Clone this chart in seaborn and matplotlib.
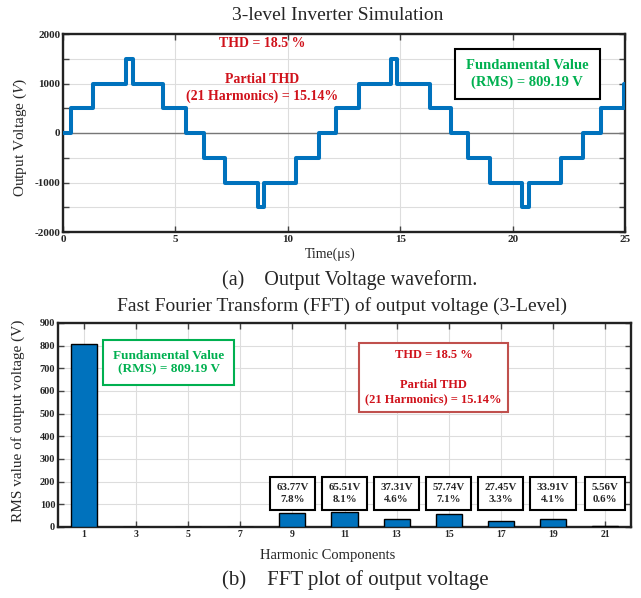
import matplotlib
matplotlib.use("Agg")
import matplotlib.pyplot as plt
import seaborn as sns
import pandas as pd

# --- waveform (a): staircase steps ---
t_steps = [0, 0.36, 1.33, 2.80, 3.10, 4.47, 5.47, 6.25, 7.22, 8.67, 8.96, 10.37, 11.41,
           12.16, 13.16, 14.57, 14.84, 16.31, 17.26, 18.0, 19.0, 20.42, 20.73, 22.16,
           23.13, 23.93, 24.95, 25.0]
v_steps = [0, 500, 1000, 1500, 1000, 500, 0, -500, -1000, -1500, -1000, -500, 0,
           500, 1000, 1500, 1000, 500, 0, -500, -1000, -1500, -1000, -500,
           0, 500, 1000, 1000]

# --- FFT (b) ---
harmonics = [1, 3, 5, 7, 9, 11, 13, 15, 17, 19, 21]
rms_values = [809.19, 0, 0, 0, 63.77, 65.51, 37.31, 57.74, 27.45, 33.91, 5.56]
label_harm = [9, 11, 13, 15, 17, 19, 21]
label_volt = ['63.77V', '65.51V', '37.31V', '57.74V', '27.45V', '33.91V', '5.56V']
label_pct = ['7.8%', '8.1%', '4.6%', '7.1%', '3.3%', '4.1%', '0.6%']

BLUE = '#0072BD'
RED = '#D0121B'
GREEN = '#00B050'
RED_EDGE = '#C0504D'

sns.set_style("ticks")
plt.rcParams['font.family'] = ['Liberation Serif', 'DejaVu Serif']
plt.rcParams['mathtext.fontset'] = 'stix'

fig = plt.figure(figsize=(6.41, 5.98), dpi=100)
W, H = 641, 598

def axes_px(l, t, r, b):
    return fig.add_axes([l / W, 1 - b / H, (r - l) / W, (b - t) / H])

def style_axes(ax, xsize, ysize):
    for s in ax.spines.values():
        s.set_linewidth(1.7)
        s.set_color('#222222')
    ax.tick_params(direction='in', top=True, right=True, length=4, width=1,
                   color='#444444', pad=2)
    ax.tick_params(axis='x', labelsize=xsize)
    ax.tick_params(axis='y', labelsize=ysize)
    for lab in ax.get_xticklabels() + ax.get_yticklabels():
        lab.set_fontweight('bold')
    ax.grid(True, color='#dddddd', linewidth=0.8)
    ax.set_axisbelow(True)

# ---------------- (a) output voltage waveform ----------------
ax1 = axes_px(63, 34, 625, 232)
wave = pd.DataFrame({'t': t_steps, 'v': v_steps})
ax1.axhline(0, color='#777777', linewidth=1, zorder=1)
sns.lineplot(data=wave, x='t', y='v', drawstyle='steps-post', color=BLUE,
             linewidth=2.9, ax=ax1, zorder=3)
ax1.set_xlim(0, 25)
ax1.set_ylim(-2000, 2000)
ax1.set_xticks([0, 5, 10, 15, 20, 25])
ax1.set_yticks(range(-2000, 2001, 500))
ax1.set_yticklabels([str(v) if v % 1000 == 0 else '' for v in range(-2000, 2001, 500)])
ax1.set_xlabel('')
ax1.set_ylabel('')
style_axes(ax1, 8, 8)

ax1.text(8.87, 1818, 'THD = 18.5 %', color=RED, fontsize=10, fontweight='bold',
         ha='center', va='center')
ax1.text(8.87, 909, 'Partial THD\n(21 Harmonics) = 15.14%', color=RED, fontsize=10,
         fontweight='bold', ha='center', va='center', linespacing=1.3)
ax1.text(20.66, 1192, 'Fundamental Value\n(RMS) = 809.19 V', color=GREEN, fontsize=10.5,
         fontweight='bold', ha='center', va='center', linespacing=1.25,
         bbox=dict(boxstyle='square,pad=0.75', facecolor='white', edgecolor='black', linewidth=1.5))

fig.text(338 / W, 1 - 15 / H, '3-level Inverter Simulation', ha='center', va='center', fontsize=14)
fig.text(20 / W, 1 - 137 / H, 'Output Voltage ($\\mathit{V}$)', rotation=90, ha='center',
         va='center', fontsize=11)
fig.text(330 / W, 1 - 254 / H, 'Time(μs)', ha='center', va='center', fontsize=10)
fig.text(222 / W, 1 - 280 / H, '(a)    Output Voltage waveform.', ha='left', va='center', fontsize=14.5)

# ---------------- (b) FFT ----------------
ax2 = axes_px(58, 323, 631, 527)
fft = pd.DataFrame({'harmonic': harmonics, 'rms': rms_values})
sns.barplot(data=fft, x='harmonic', y='rms', native_scale=True, width=0.5, color=BLUE,
            saturation=1, edgecolor='black', linewidth=1, ax=ax2, zorder=3)
ax2.set_xlim(0, 22)
ax2.set_ylim(0, 900)
ax2.set_xticks(harmonics)
ax2.set_xticklabels([str(h) for h in harmonics])
ax2.set_yticks(range(0, 901, 100))
ax2.set_xlabel('')
ax2.set_ylabel('')
style_axes(ax2, 7, 7.5)

for h, v, p in zip(label_harm, label_volt, label_pct):
    ax2.text(h, 148, f'{v}\n{p}', ha='center', va='center', fontsize=7.8, fontweight='bold',
             linespacing=1.35, zorder=5,
             bbox=dict(boxstyle='square,pad=0.6', facecolor='white', edgecolor='black', linewidth=1.5))

ax2.text(4.25, 726, 'Fundamental Value\n(RMS) = 809.19 V', color=GREEN, fontsize=9.5,
         fontweight='bold', ha='center', va='center', linespacing=1.2, zorder=5,
         bbox=dict(boxstyle='square,pad=0.75', facecolor='white', edgecolor=GREEN, linewidth=1.5))
ax2.text(14.42, 660, 'THD = 18.5 %\n\nPartial THD\n(21 Harmonics) = 15.14%', color=RED,
         fontsize=9, fontweight='bold', ha='center', va='center', linespacing=1.3, zorder=5,
         bbox=dict(boxstyle='square,pad=0.5', facecolor='white', edgecolor=RED_EDGE, linewidth=1.5))

fig.text(342 / W, 1 - 306 / H, 'Fast Fourier Transform (FFT) of output voltage (3-Level)',
         ha='center', va='center', fontsize=14)
fig.text(18.5 / W, 1 - 421 / H, 'RMS value of output voltage (V)', rotation=90, ha='center',
         va='center', fontsize=11)
fig.text(328 / W, 1 - 556 / H, 'Harmonic Components', ha='center', va='center', fontsize=10.5)
fig.text(222 / W, 1 - 580 / H, '(b)    FFT plot of output voltage', ha='left', va='center', fontsize=15)

fig.savefig('out.png', dpi=100)
